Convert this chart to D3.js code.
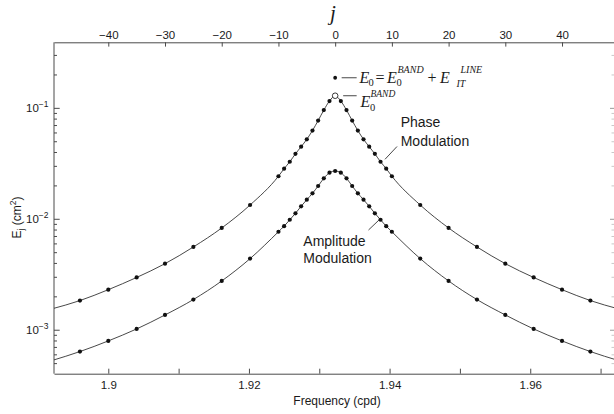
<!DOCTYPE html>
<html>
<head>
<meta charset="utf-8">
<script src="https://cdn.jsdelivr.net/npm/d3@7"></script>
<style>
  html, body { margin: 0; padding: 0; background: #fff; }
  svg { display: block; }
  .sans { font-family: "Liberation Sans", Arial, Helvetica, sans-serif; }
  .serif { font-family: "Liberation Serif", "Times New Roman", serif; }
</style>
</head>
<body>
<script>
// ---------------- data ----------------
const jIndex = [-45,-40,-35,-30,-25,-20,-15,-10,-9,-8,-7,-6,-5,-4,-3,-2,-1,0,
                 1,2,3,4,5,6,7,8,9,10,15,20,25,30,35,40,45];
const phaseModulation = [0.00185,0.00232,0.00299,0.00398,0.00563,0.00835,0.01345,0.02444,
  0.0286,0.0330,0.0389,0.0451,0.0526,0.0631,0.0776,0.0965,0.1163,0.1299,
  0.1163,0.0965,0.0776,0.0631,0.0526,0.0451,0.0389,0.0330,0.0286,0.02444,
  0.01345,0.00835,0.00563,0.00398,0.00299,0.00232,0.00185];
const amplitudeModulation = [0.000642,0.000801,0.001027,0.001373,0.00189,0.00278,0.00442,0.00772,
  0.00867,0.00990,0.01132,0.01310,0.01502,0.01715,0.01995,0.02341,0.02629,0.02723,
  0.02629,0.02341,0.01995,0.01715,0.01502,0.01310,0.01132,0.00990,0.00867,0.00772,
  0.00442,0.00278,0.00189,0.001373,0.001027,0.000801,0.000642];
// curve values at the plot edges (j = -50 and +50)
const edgeJ = [-50, 50];
const phaseEdge = [0.001555, 0.001555];
const amplitudeEdge = [0.000532, 0.000532];
// E0 total (band + line) at j = 0
const e0Total = 0.1887;
// frequency of j = 0 and spacing per j (cpd)
const F0 = 1.93226;
const DF = 0.0008065;
const freqTicks = [1.90,1.91,1.92,1.93,1.94,1.95,1.96,1.97];
const freqLabels = [1.90,1.92,1.94,1.96];
const jTicks = [-40,-30,-20,-10,0,10,20,30,40];

// ---------------- layout ----------------
const W = 614, H = 414;
const L = 54, R = 614, T = 42.3, B = 373.7;

const svg = d3.select("body").append("svg").attr("width", W).attr("height", H);

const x = d3.scaleLinear().domain([1.89228, 1.97191]).range([L, R]);
const jScale = d3.scaleLinear()
  .domain([(x.domain()[0]-F0)/DF, (x.domain()[1]-F0)/DF]).range([L, R]);
const y = d3.scaleLog().domain([0.3939, 4.056e-4]).range([T, B]);

const fx = j => x(F0 + j*DF);

const axisColor = "#4a4a4a";
const textColor = "#1a1a1a";

svg.append("defs").append("clipPath").attr("id","clip")
  .append("rect").attr("x", L).attr("y", T).attr("width", R-L).attr("height", B-T);

// bottom axis
const gB = svg.append("g").attr("transform", `translate(0,${B})`).attr("class","sans")
  .call(d3.axisBottom(x).tickValues(freqTicks).tickSizeInner(-5).tickSizeOuter(0).tickPadding(7.5)
    .tickFormat(d => freqLabels.some(v => Math.abs(v-d) < 1e-9) ? d3.format("")(+d.toFixed(2)) : ""));
gB.selectAll("path,line").attr("stroke", axisColor);
gB.selectAll("text").attr("font-size", 11.5).attr("fill", textColor)
  .attr("font-family", '"Liberation Sans", Arial, sans-serif');

// top axis (j)
const gT = svg.append("g").attr("transform", `translate(0,${T})`)
  .call(d3.axisTop(jScale).tickValues(jTicks).tickSizeInner(-4.3).tickSizeOuter(0).tickPadding(3.3)
    .tickFormat(d => d < 0 ? "\u2212" + Math.abs(d) : String(d)));
gT.selectAll("path,line").attr("stroke", axisColor);
gT.selectAll("text").attr("font-size", 11.5).attr("fill", textColor)
  .attr("font-family", '"Liberation Sans", Arial, sans-serif');

// left axis line
svg.append("line").attr("x1", L).attr("x2", L).attr("y1", T).attr("y2", B).attr("stroke", axisColor);

// log ticks
const logTicks = y.ticks().filter(v => y(v) >= T-0.5 && y(v) <= B+0.5);
const isMajor = v => Math.abs(Math.log10(v) - Math.round(Math.log10(v))) < 1e-6;
svg.append("g").selectAll("line").data(logTicks).join("line")
  .attr("x1", L).attr("x2", d => L + (isMajor(d) ? 5.7 : 3))
  .attr("y1", d => y(d)).attr("y2", d => y(d)).attr("stroke", axisColor);
// right (faint) ticks
svg.append("g").selectAll("line").data(logTicks).join("line")
  .attr("x1", R).attr("x2", d => R - (isMajor(d) ? 4 : 2.5))
  .attr("y1", d => y(d)).attr("y2", d => y(d)).attr("stroke", d => isMajor(d) ? "#999" : "#c8c8c8");

// left labels 10^n
const majors = logTicks.filter(isMajor);
const lab = svg.append("g").selectAll("text").data(majors).join("text")
  .attr("class","sans").attr("x", 48.5).attr("y", d => y(d) + 4)
  .attr("text-anchor","end").attr("fill", textColor).attr("font-size", 11.5);
lab.append("tspan").text("10");
lab.append("tspan").attr("dy", -5).attr("font-size", 8.5)
  .text(d => "\u2212" + Math.abs(Math.round(Math.log10(d))));

// y title
const yt = svg.append("text").attr("class","sans")
  .attr("transform", "translate(21,217.5) rotate(-90)")
  .attr("text-anchor","middle").attr("font-size", 12).attr("fill", textColor);
yt.append("tspan").text("E");
yt.append("tspan").attr("font-size", 8.5).attr("dy", 3).text("j");
yt.append("tspan").attr("dy", -3).text(" (cm");
yt.append("tspan").attr("font-size", 8.5).attr("dy", -5).text("2");
yt.append("tspan").attr("dy", 5).text(")");

// x title
svg.append("text").attr("class","sans").attr("x", 337).attr("y", 405)
  .attr("text-anchor","middle").attr("font-size", 12).attr("fill", textColor)
  .text("Frequency (cpd)");
// j title
svg.append("text").attr("class","serif").attr("x", 333).attr("y", 20)
  .attr("text-anchor","middle").attr("font-size", 21).attr("font-style","italic")
  .attr("fill", textColor).text("j");

// ---------------- curves ----------------
const line = d3.line().x(d => fx(d[0])).y(d => y(d[1])).curve(d3.curveMonotoneX);
const makeSeries = (vals, edge) => [[edgeJ[0], edge[0]], ...jIndex.map((j,i) => [j, vals[i]]), [edgeJ[1], edge[1]]];

const plot = svg.append("g").attr("clip-path","url(#clip)");
[[phaseModulation, phaseEdge], [amplitudeModulation, amplitudeEdge]].forEach(([vals, edge]) => {
  plot.append("path").datum(makeSeries(vals, edge)).attr("d", line)
    .attr("fill","none").attr("stroke","#333").attr("stroke-width", 0.9);
});

// points
plot.append("g").selectAll("circle").data(jIndex.map((j,i)=>[j, amplitudeModulation[i]])).join("circle")
  .attr("cx", d => fx(d[0])).attr("cy", d => y(d[1])).attr("r", 2.1).attr("fill","#111");
plot.append("g").selectAll("circle").data(jIndex.map((j,i)=>[j, phaseModulation[i]]).filter(d => d[0] !== 0)).join("circle")
  .attr("cx", d => fx(d[0])).attr("cy", d => y(d[1])).attr("r", 2.1).attr("fill","#111");
// E0 band (open circle) on the phase curve
const j0Val = phaseModulation[jIndex.indexOf(0)];
svg.append("circle").attr("cx", fx(0)).attr("cy", y(j0Val)).attr("r", 2.8)
  .attr("fill","#fff").attr("stroke","#222").attr("stroke-width", 0.9);
// E0 total dot
svg.append("circle").attr("cx", fx(0)).attr("cy", y(e0Total)).attr("r", 1.9).attr("fill","#111");

// ---------------- annotations ----------------
const x0 = fx(0);
svg.append("line").attr("x1", x0+6.5).attr("x2", x0+21.5).attr("y1", y(e0Total)).attr("y2", y(e0Total))
  .attr("stroke","#333").attr("stroke-width", 0.9);
svg.append("line").attr("x1", x0+8).attr("x2", x0+21.5).attr("y1", y(j0Val)).attr("y2", y(j0Val))
  .attr("stroke","#333").attr("stroke-width", 0.9);

function t(xp, yp, str, size, italic) {
  svg.append("text").attr("class","serif").attr("x", xp).attr("y", yp)
    .attr("font-size", size).attr("font-style", italic ? "italic" : "normal")
    .attr("fill", textColor).text(str);
}
// E0 = E0^BAND + E_IT^LINE
t(359.5, 83.3, "E", 16, true);
t(368.5, 86.3, "0", 10.5, false);
t(375.5, 83.3, "=", 16, false);
t(387, 83.3, "E", 16, true);
t(396.5, 86.3, "0", 10.5, false);
t(397.5, 72.8, "BAND", 10, true);
t(427.5, 83.3, "+", 16, false);
t(440, 83.3, "E", 16, true);
t(456.5, 86.5, "IT", 10, true);
t(460.5, 72.8, "LINE", 10, true);
// E0^BAND
t(360.5, 107, "E", 16, true);
t(370, 111, "0", 10.5, false);
t(370.5, 97, "BAND", 9.5, true);

// series labels
function s(xp, yp, str) {
  svg.append("text").attr("class","sans").attr("x", xp).attr("y", yp)
    .attr("font-size", 14).attr("fill", textColor).text(str);
}
s(400.7, 127.3, "Phase");
s(400.7, 145.7, "Modulation");
s(303.3, 245.7, "Amplitude");
s(303.3, 263.3, "Modulation");
svg.append("line").attr("x1", 385).attr("y1", 159.3).attr("x2", 397).attr("y2", 146.5)
  .attr("stroke","#333").attr("stroke-width", 0.9);
svg.append("line").attr("x1", 368.5).attr("y1", 230).attr("x2", 379).attr("y2", 220)
  .attr("stroke","#333").attr("stroke-width", 0.9);
</script>
</body>
</html>
